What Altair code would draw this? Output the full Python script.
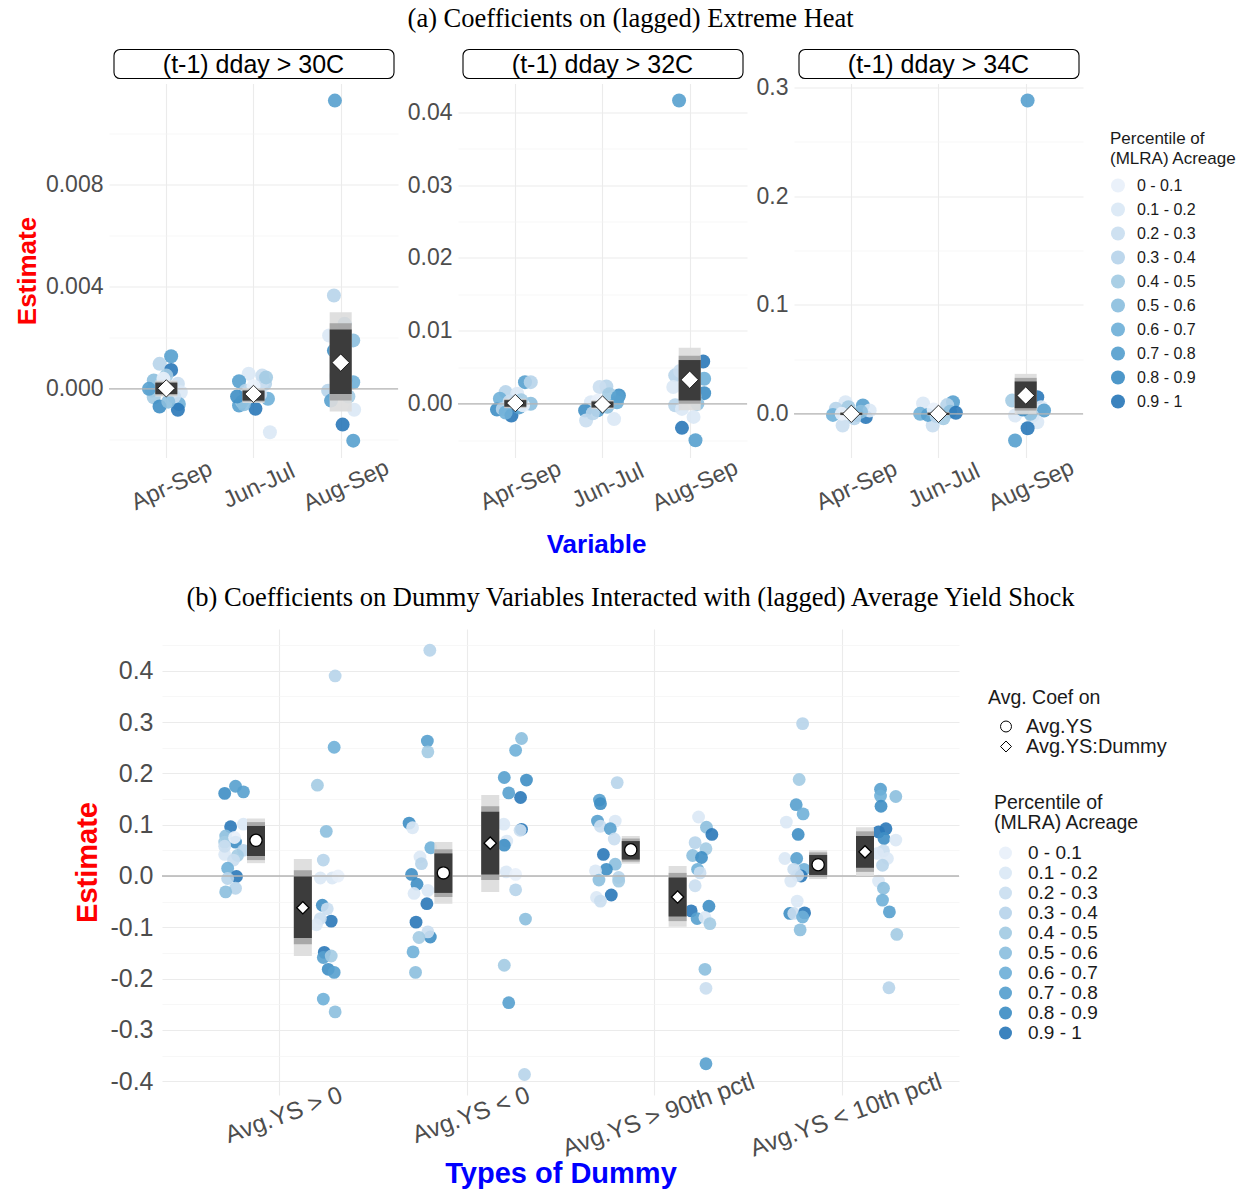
import altair as alt
import pandas as pd

FONT = "Liberation Sans"
SERIF = "Liberation Serif"

# ---------------- shared categories ----------------
bins = ["0 - 0.1", "0.1 - 0.2", "0.2 - 0.3", "0.3 - 0.4", "0.4 - 0.5",
        "0.5 - 0.6", "0.6 - 0.7", "0.7 - 0.8", "0.8 - 0.9", "0.9 - 1"]
bin_colors = ["#e8f0fa", "#dae8f5", "#cadef0", "#b7d4ea", "#a3cbe3",
              "#8cbfde", "#6fb0d8", "#56a0ce", "#3e8ec4", "#2a78b8"]

periods = ["Apr-Sep", "Jun-Jul", "Aug-Sep"]
heat_panels = ["(t-1) dday > 30C", "(t-1) dday > 32C", "(t-1) dday > 34C"]

# ---------------- (a) points: (estimate, percentile-bin index, jitter px) ----------------
t30_apr = [(0.00128, 7, 5), (0.00098, 3, -7), (0.00074, 9, 5), (0.00052, 4, 0), (0.00033, 5, -13),
           (0.00020, 2, 12), (-0.00007, 4, -15), (-0.00013, 1, 15), (-0.00033, 4, -13), (-0.00059, 6, 13),
           (-0.00069, 8, -7), (-0.00082, 9, 12), (-0.00013, 3, 3), (0.00000, 7, -18), (0.00010, 6, -5),
           (-0.00030, 2, 8), (0.00040, 0, -3), (-0.00050, 5, 2)]
t30_jun = [(0.00059, 1, -5), (0.00052, 2, 9), (0.00030, 7, -15), (0.00020, 3, 12), (-0.00007, 3, -8),
           (-0.00039, 6, 15), (-0.00065, 7, -15), (-0.00078, 9, 2), (-0.00170, 1, 17), (-0.00050, 4, -12),
           (-0.00020, 2, 7), (0.00030, 2, 10), (-0.00060, 5, -10), (0.00010, 0, 0), (-0.00030, 8, -17),
           (0.00045, 4, 13)]
t30_aug = [(0.01130, 7, -6), (0.00366, 3, -7), (0.00255, 7, 4), (0.00190, 5, 13), (0.00209, 1, -12),
           (0.00150, 8, -7), (0.00033, 9, 5), (0.00026, 6, 13), (-0.00007, 3, -13), (-0.00046, 7, -10),
           (-0.00082, 1, 14), (-0.00140, 9, 2), (-0.00203, 7, 13), (0.00120, 2, 3), (0.00050, 0, -5),
           (-0.00030, 4, 8), (0.00210, 9, 0)]
t32_apr = [(0.00297, 7, 10), (0.00297, 3, 16), (0.00160, 3, -10), (0.00137, 1, 2), (0.00070, 6, -16),
           (0.00000, 5, 16), (-0.00080, 8, -19), (-0.00070, 3, -13), (-0.00160, 9, -4), (-0.00050, 7, 4),
           (0.00030, 2, -6), (-0.00020, 0, 8), (0.00050, 4, 6), (-0.00120, 6, -10)]
t32_jun = [(0.00237, 3, 4), (0.00230, 2, -3), (0.00114, 8, 17), (0.00130, 4, 7), (0.00020, 1, -12),
           (-0.00092, 8, -18), (-0.00090, 7, -5), (-0.00230, 2, -17), (-0.00210, 1, 12), (0.00020, 6, 15),
           (0.00090, 7, 16), (-0.00040, 5, 5), (0.00040, 0, -5), (-0.00130, 3, -10)]
t32_aug = [(0.04160, 7, -11), (0.00580, 9, 14), (0.00343, 6, 15), (0.00390, 3, -15), (0.00230, 1, -17),
           (0.00146, 8, 15), (-0.00020, 3, -15), (-0.00070, 1, -8), (-0.00180, 1, 4), (-0.00330, 9, -8),
           (-0.00500, 7, 6), (0.00000, 5, 8), (0.00450, 2, -10), (0.00100, 4, 5), (0.00200, 0, -3)]
t34_apr = [(0.0107, 1, -6), (0.0076, 7, 12), (0.0046, 3, -16), (-0.0010, 6, -19), (-0.0030, 9, 15),
           (-0.0107, 2, -9), (0.0030, 1, 19), (-0.0010, 8, 6), (0.0060, 4, -3), (0.0000, 0, -10),
           (0.0020, 5, 10), (-0.0040, 3, 3)]
t34_jun = [(0.0107, 7, 15), (0.0095, 1, -16), (0.0080, 3, 9), (0.0000, 6, -19), (-0.0107, 2, -6),
           (0.0020, 5, 12), (-0.0010, 7, -11), (0.0040, 0, -5), (-0.0040, 4, 5), (0.0010, 9, 18),
           (-0.0020, 3, -2)]
t34_aug = [(0.2877, 7, 2), (0.0122, 4, -14), (0.0152, 9, 12), (0.0060, 1, 16), (0.0030, 7, 19),
           (-0.0016, 1, -11), (-0.0020, 3, 7), (-0.0077, 1, 12), (-0.0132, 9, 2), (-0.0245, 7, -11),
           (0.0080, 2, -5), (0.0000, 5, 5), (0.0040, 8, -3)]

# (a) interval summaries per period: (mean, lo_outer, hi_outer, lo_mid, hi_mid, lo_inner, hi_inner)
box30 = [(0.00002, -0.00030, 0.00033, -0.00025, 0.00028, -0.00020, 0.00024),
         (-0.00020, -0.00055, 0.00002, -0.00050, -0.00003, -0.00046, -0.00007),
         (0.00103, -0.00089, 0.00300, -0.00046, 0.00257, -0.00020, 0.00233)]
box32 = [(0.0001, -0.0006, 0.0007, -0.0005, 0.0006, -0.0004, 0.0005),
         (-0.0001, -0.0007, 0.0005, -0.0006, 0.0004, -0.0005, 0.0003),
         (0.0033, -0.0009, 0.0077, 0.0000, 0.0066, 0.00045, 0.0060)]
box34 = [(0.0000, -0.0014, 0.0014, -0.0012, 0.0012, -0.0010, 0.0010),
         (0.0000, -0.0014, 0.0014, -0.0012, 0.0012, -0.0010, 0.0010),
         (0.0168, 0.0000, 0.0367, 0.0030, 0.0330, 0.0052, 0.0297)]

# ---------------- (b) ----------------
dummy_types = ["Avg.YS > 0", "Avg.YS < 0", "Avg.YS > 90th pctl", "Avg.YS < 10th pctl"]
coef_types = ["Avg.YS", "Avg.YS:Dummy"]

gt0_avg = [(0.161, 8, -8), (0.175, 7, 3), (0.164, 7, 11), (0.096, 9, -2), (0.101, 1, 11), (0.078, 5, -7),
           (0.066, 8, 3), (0.066, 4, -8), (0.050, 3, 11), (0.040, 4, 5), (0.042, 1, -8), (0.031, 2, 1),
           (0.015, 6, -5), (-0.001, 9, 4), (-0.005, 3, -5), (-0.024, 3, 3), (-0.031, 5, -7), (0.058, 2, -8),
           (0.075, 0, 2)]
gt0_dum = [(0.390, 3, 9), (0.251, 6, 8), (0.177, 4, -9), (0.087, 5, 0), (0.031, 3, -3), (-0.004, 1, -6),
           (-0.004, 1, 6), (0.000, 0, 12), (-0.057, 8, -4), (-0.064, 2, 1), (-0.088, 9, 5), (-0.083, 2, -6),
           (-0.095, 1, -10), (-0.149, 9, -2), (-0.159, 7, -3), (-0.156, 4, 5), (-0.182, 8, 2), (-0.188, 7, 8),
           (-0.240, 6, -3), (-0.265, 5, 9)]
lt0_avg = [(0.440, 3, 10), (0.263, 7, 7.5), (0.242, 4, 8), (0.103, 8, -11), (0.094, 1, -7.5), (0.055, 6, 11),
           (0.037, 1, 0), (0.024, 3, 1.5), (0.003, 8, -8.5), (-0.016, 8, -3), (-0.034, 1, -6), (-0.028, 1, 8),
           (-0.054, 9, 7), (-0.090, 9, -4), (-0.119, 8, 10.5), (-0.109, 2, 8), (-0.120, 4, -1), (-0.148, 6, -7),
           (-0.188, 5, -4.5)]
lt0_dum = [(0.268, 5, 8), (0.245, 6, 2), (0.192, 7, -9.5), (0.187, 8, 13), (0.162, 7, -5), (0.153, 9, 7),
           (0.101, 1, -10), (0.091, 9, 8), (0.089, 2, 6.5), (0.068, 1, -7), (0.060, 8, -9.5), (0.008, 1, -7.5),
           (0.003, 0, 2), (-0.027, 3, 2), (-0.084, 5, 12), (-0.174, 4, -9.5), (-0.247, 7, -5), (-0.387, 3, 11)]
p90_avg = [(0.182, 3, 10), (0.148, 7, -8), (0.141, 8, -7), (0.107, 7, -10), (0.107, 1, 8), (0.097, 2, -7),
           (0.092, 7, 3), (0.072, 2, 7), (0.042, 9, -4), (0.023, 5, 8), (0.013, 8, -1), (0.010, 1, -12),
           (-0.003, 3, 11.5), (-0.008, 5, -8.5), (-0.010, 4, 11.5), (-0.037, 9, 4), (-0.042, 1, -11),
           (-0.049, 2, -7)]
p90_dum = [(0.115, 1, -2.5), (0.095, 5, 5.5), (0.081, 9, 11), (0.065, 3, -6), (0.053, 4, 5), (0.040, 5, -8.5),
           (0.036, 8, 0.5), (0.013, 6, -3.5), (0.006, 2, -1), (-0.019, 2, -6), (-0.059, 8, 8), (-0.068, 9, -10),
           (-0.083, 7, -4), (-0.081, 1, 4), (-0.093, 4, 9), (-0.182, 5, 4), (-0.219, 2, 5), (-0.366, 7, 5)]
p10_avg = [(0.297, 3, 8), (0.188, 4, 4.5), (0.139, 7, 1.5), (0.121, 6, 8.5), (0.105, 1, -8.5), (0.081, 8, 3.5),
           (0.034, 1, -10), (0.034, 7, 2), (0.013, 6, 9.5), (0.013, 2, -1), (0.000, 9, 6.5), (0.001, 2, 3),
           (-0.010, 1, -4), (-0.049, 1, 2.5), (-0.073, 8, -5), (-0.073, 2, -1), (-0.072, 9, 10), (-0.080, 6, 8),
           (-0.105, 5, 5.5)]
p10_dum = [(0.169, 7, -8), (0.156, 6, -8), (0.155, 5, 7.5), (0.136, 8, -7.5), (0.092, 9, -2.5), (0.086, 9, -10),
           (0.073, 8, -4.5), (0.070, 1, 7.5), (0.049, 2, -5), (0.034, 1, -1), (0.044, 1, -11), (0.021, 3, -6),
           (-0.010, 1, -10), (-0.024, 5, -5), (-0.047, 6, -6), (-0.070, 7, 1), (-0.114, 4, 8.5), (-0.218, 3, 0.5)]

box_avg = [(0.0696, 0.025, 0.112, 0.031, 0.105, 0.039, 0.0975),
           (0.006, -0.054, 0.066, -0.041, 0.052, -0.033, 0.044),
           (0.051, 0.024, 0.078, 0.028, 0.073, 0.032, 0.068),
           (0.022, -0.006, 0.050, -0.002, 0.046, 0.002, 0.041)]
box_dum = [(-0.062, -0.156, 0.033, -0.133, 0.011, -0.121, -0.001),
           (0.064, -0.031, 0.158, -0.008, 0.136, 0.003, 0.125),
           (-0.041, -0.099, 0.0195, -0.088, 0.006, -0.079, -0.003),
           (0.047, 0.000, 0.095, 0.008, 0.087, 0.016, 0.078)]

BAND_COLORS = ["#dcdcdc", "#a3a3a3", "#333333"]
GRID = "#ebebeb"
MINOR = "#f4f4f4"
LABEL = "#4d4d4d"


def tick_values(lo, hi, step):
    n = int(round((hi - lo) / step))
    return [round(lo + i * step, 6) for i in range(n + 1)]


def y_axis(vals, major, fmt, size, title=None, tsize=26, tpad=6, lpad=6):
    test = f"abs(datum.value/{major} - round(datum.value/{major})) < 1e-6"
    kw = dict(
        values=vals,
        labelExpr=f"{test} ? replace(format(datum.value, '{fmt}'), '\u2212', '-') : ''",
        gridColor={"condition": {"test": test, "value": GRID}, "value": MINOR},
        gridWidth={"condition": {"test": test, "value": 1.1}, "value": 0.7},
        labelFontSize=size, labelPadding=lpad, labelOverlap=False, labelColor=LABEL,
        domain=False, ticks=False,
    )
    if title:
        kw.update(title=title, titleColor="#ff0000", titleFontSize=tsize, titleFontWeight="bold",
                  titlePadding=tpad)
    else:
        kw.update(title=None)
    return alt.Axis(**kw)


def band_layers(bdf, xenc, yenc, width):
    layers = []
    for j, col in enumerate(BAND_COLORS):
        layers.append(
            alt.Chart(bdf).mark_bar(size=width, color=col, opacity=0.92).encode(
                x=xenc("x"), y=yenc(f"l{j+1}"), y2=alt.Y2(f"h{j+1}")
            )
        )
    return layers


def box_rows(boxes, pos):
    rows = []
    for (m, a, b, c, d, e, f), x in zip(boxes, pos):
        rows.append({"x": x, "mean": m, "l1": a, "h1": b, "l2": c, "h2": d, "l3": e, "h3": f})
    return rows


def spacer(w, h=10):
    return alt.Chart(pd.DataFrame({"s": [0]})).mark_point(opacity=0).encode(
        x=alt.value(0), y=alt.value(0)).properties(width=w, height=h)


# ---------------- (a) panels ----------------
heat_groups = [[t30_apr, t30_jun, t30_aug], [t32_apr, t32_jun, t32_aug], [t34_apr, t34_jun, t34_aug]]
heat_boxes = [box30, box32, box34]
heat_ydom = [[-0.00269, 0.01197], [-0.00737, 0.04394], [-0.0401, 0.3033]]
heat_ticks = [(tick_values(-0.002, 0.010, 0.002), 0.004, ".3f"),
              (tick_values(-0.005, 0.040, 0.005), 0.01, ".2f"),
              (tick_values(0.0, 0.30, 0.05), 0.1, ".1f")]

PW, PH = 289, 374
period_expr = "[" + ",".join(f"'{p}'" for p in periods) + "][round(datum.value) - 1]"


def heat_panel(k):
    rows = []
    for i, pts in enumerate(heat_groups[k]):
        for est, b, jit in pts:
            rows.append({"x": i + 1 + jit / 90.3, "est": est, "bin": bins[b]})
    pdf = pd.DataFrame(rows)
    bdf = pd.DataFrame(box_rows(heat_boxes[k], [1, 2, 3]))

    xkw = dict(values=[1, 2, 3], labelExpr=period_expr, labelAngle=-25, labelAlign="center",
               labelBaseline="top", labelPadding=17, labelFontSize=23.5, labelOverlap=False,
               labelFlush=False, labelLimit=0, labelColor=LABEL, gridColor=GRID, gridWidth=1.1,
               domain=False, ticks=False)
    if k == 1:
        xkw.update(title="Variable", titleX=138, titleColor="#0000ff", titleFontSize=26,
                   titleFontWeight="bold", titlePadding=16)
    else:
        xkw.update(title=None)
    xax = alt.Axis(**xkw)
    vals, major, fmt = heat_ticks[k]
    yax = y_axis(vals, major, fmt, 23, title="Estimate" if k == 0 else None, tsize=26, tpad=5)
    xs = alt.Scale(domain=[0.4, 3.6], nice=False, zero=False)
    ys = alt.Scale(domain=heat_ydom[k], nice=False, zero=False)

    def xenc(f):
        return alt.X(f"{f}:Q", scale=xs, axis=xax)

    def yenc(f):
        return alt.Y(f"{f}:Q", scale=ys, axis=yax)

    if k == 2:
        leg = alt.Legend(title=["Percentile of", "(MLRA) Acreage"], orient="none", legendX=316, legendY=47,
                         titleFontSize=17, titleFontWeight="normal", titleLineHeight=20, titlePadding=10,
                         labelFontSize=16, symbolSize=196, symbolType="circle", symbolOpacity=0.92,
                         rowPadding=8, labelOffset=11, padding=0)
    else:
        leg = None
    pts = alt.Chart(pdf).mark_circle(size=196, opacity=0.9).encode(
        x=xenc("x"), y=yenc("est"),
        color=alt.Color("bin:N", scale=alt.Scale(domain=bins, range=bin_colors), legend=leg),
    )
    zero = alt.Chart(pd.DataFrame({"z": [0.0]})).mark_rule(color="#b5b5b5", strokeWidth=1.3).encode(y=yenc("z"))
    marker = alt.Chart(bdf).mark_point(shape="diamond", filled=True, fill="white", stroke="black",
                                       strokeWidth=0.8, size=300, opacity=1).encode(x=xenc("x"), y=yenc("mean"))
    sdf = pd.DataFrame({"label": [heat_panels[k]]})
    strip_box = alt.Chart(sdf).mark_rect(cornerRadius=6, fill="white", stroke="black", strokeWidth=1.1).encode(
        x=alt.value(5), x2=alt.value(285), y=alt.value(-34), y2=alt.value(-5))
    strip_txt = alt.Chart(sdf).mark_text(fontSize=25, font=FONT, color="black", baseline="middle",
                                         align="center").encode(x=alt.value(144.5), y=alt.value(-18.5),
                                                                text="label:N")
    layers = [pts, zero] + band_layers(bdf, xenc, yenc, 22) + [marker, strip_box, strip_txt]
    return alt.layer(*layers).properties(width=PW, height=PH)


top = alt.hconcat(
    spacer(1), heat_panel(0), heat_panel(1), heat_panel(2), spacing=8,
    title=alt.TitleParams("(a) Coefficients on (lagged) Extreme Heat", font=SERIF, fontSize=26.5,
                          fontWeight="normal", anchor="middle", offset=16, dx=12, color="black"),
).resolve_scale(x="independent", y="independent", color="independent").resolve_legend(color="independent")

# ---------------- (b) chart ----------------
bottom_groups = [(gt0_avg, gt0_dum), (lt0_avg, lt0_dum), (p90_avg, p90_dum), (p10_avg, p10_dum)]
rows = []
for i, (ga, gd) in enumerate(bottom_groups):
    for est, b, jit in ga:
        rows.append({"x": i + 1 - 0.25 + jit / 190.0, "est": est, "bin": bins[b]})
    for est, b, jit in gd:
        rows.append({"x": i + 1 + 0.25 + jit / 190.0, "est": est, "bin": bins[b]})
bpts = pd.DataFrame(rows)

brows = box_rows(box_avg, [i + 1 - 0.125 for i in range(4)])
for r in brows:
    r["coef"] = coef_types[0]
drows = box_rows(box_dum, [i + 1 + 0.125 for i in range(4)])
for r in drows:
    r["coef"] = coef_types[1]
bbox = pd.DataFrame(brows + drows)

dummy_expr = "[" + ",".join(f"'{d}'" for d in dummy_types) + "][round(datum.value) - 1]"
bxax = alt.Axis(values=[1, 2, 3, 4], labelExpr=dummy_expr, labelAngle=-20, labelAlign="center",
                labelBaseline="top", labelPadding=9, labelFontSize=24.5, labelOverlap=False, labelFlush=False,
                labelLimit=0, labelColor=LABEL, gridColor=GRID, gridWidth=1.1, domain=False, ticks=False,
                title="Types of Dummy", titleColor="#0000ff", titleFontSize=29, titleFontWeight="bold",
                titlePadding=-1)
byax = y_axis(tick_values(-0.40, 0.45, 0.05), 0.1, ".1f", 25, title="Estimate", tsize=29, tpad=7, lpad=9)
bxs = alt.Scale(domain=[0.4, 4.6], nice=False, zero=False)
bys = alt.Scale(domain=[-0.427, 0.4815], nice=False, zero=False)


def bxenc(f):
    return alt.X(f"{f}:Q", scale=bxs, axis=bxax)


def byenc(f):
    return alt.Y(f"{f}:Q", scale=bys, axis=byax)


b_pts = alt.Chart(bpts).mark_circle(size=165, opacity=0.9).encode(
    x=bxenc("x"), y=byenc("est"),
    color=alt.Color("bin:N", scale=alt.Scale(domain=bins, range=bin_colors),
                    legend=alt.Legend(title=["Percentile of", "(MLRA) Acreage"], orient="none",
                                      legendX=991, legendY=165, titleFontSize=19.5, titleFontWeight="normal",
                                      titleLineHeight=20, titlePadding=10, labelFontSize=19, symbolSize=169,
                                      symbolType="circle", symbolOpacity=0.92, rowPadding=-1,
                                      symbolOffset=2, labelOffset=13, padding=0)),
)
b_zero = alt.Chart(pd.DataFrame({"z": [0.0]})).mark_rule(color="#b5b5b5", strokeWidth=1.3).encode(y=byenc("z"))
b_marker = alt.Chart(bbox).mark_point(filled=False, color="black", fill="white", fillOpacity=1,
                                      strokeWidth=1.3, size=150, opacity=1).encode(
    x=bxenc("x"), y=byenc("mean"),
    shape=alt.Shape("coef:N", scale=alt.Scale(domain=coef_types, range=["circle", "diamond"]),
                    legend=alt.Legend(title="Avg. Coef on", orient="none", legendX=985, legendY=60,
                                      titleFontSize=19.5, titleFontWeight="normal", titlePadding=8,
                                      labelFontSize=20, symbolSize=120, symbolStrokeWidth=1,
                                      symbolOffset=8, labelOffset=10, rowPadding=0, padding=0)),
)
bottom = alt.layer(b_pts, b_zero, *band_layers(bbox, bxenc, byenc, 18), b_marker).properties(
    width=797, height=466,
    title=alt.TitleParams("(b) Coefficients on Dummy Variables Interacted with (lagged) Average Yield Shock",
                          font=SERIF, fontSize=26.5, fontWeight="normal", anchor="middle", offset=18, dx=70,
                          color="black"),
)

bottom_row = alt.hconcat(spacer(60), bottom, spacing=10)

chart = alt.vconcat(top, bottom_row, spacing=26.5).resolve_scale(
    x="independent", y="independent", color="independent", shape="independent"
).resolve_legend(color="independent", shape="independent").properties(
    padding={"left": 0, "top": 5.5, "right": 4, "bottom": 4}, background="white"
).configure_view(stroke=None).configure_axis(
    labelFont=FONT, titleFont=FONT
).configure_legend(
    labelFont=FONT, titleFont=FONT, labelColor="#1a1a1a", titleColor="#1a1a1a"
)

chart.save("out.html", embed_options={"renderer": "svg", "actions": False})
